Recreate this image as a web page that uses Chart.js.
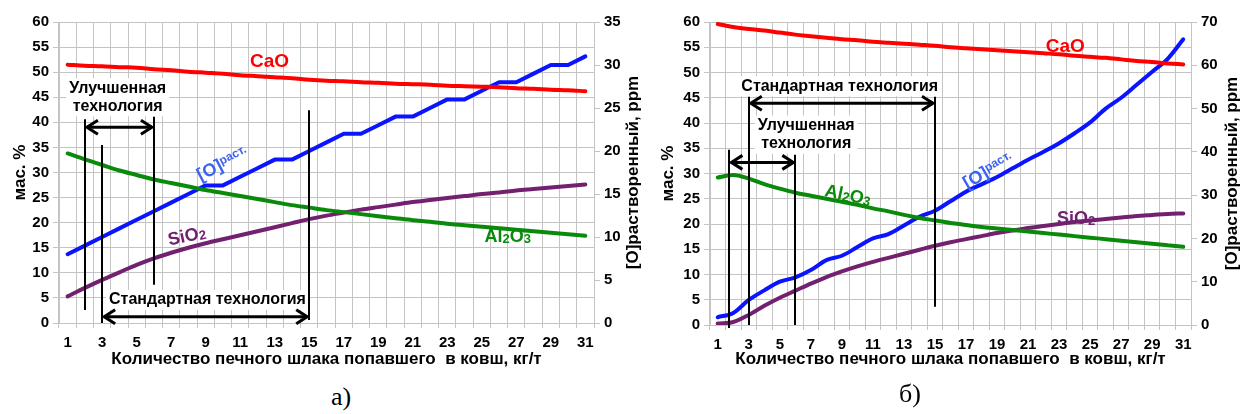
<!DOCTYPE html>
<html>
<head>
<meta charset="utf-8">
<script src="https://cdn.jsdelivr.net/npm/chart.js@4.4.1/dist/chart.umd.min.js"></script>
<style>
  html, body { margin: 0; padding: 0; background: #fff; width: 1240px; height: 414px; overflow: hidden; }
  .panel { position: absolute; top: 0; }
  .cap { position: absolute; font-family: "Liberation Serif", "DejaVu Serif", serif; font-size: 26px; color: #000;
         transform: translate(-50%, -50%); line-height: 1; }
</style>
</head>
<body>
<div class="panel" style="left:0;"><canvas id="chartA" width="650" height="380"></canvas></div>
<div class="panel" style="left:650px;"><canvas id="chartB" width="590" height="380"></canvas></div>
<div class="cap" style="left:341px;top:397px;">а)</div>
<div class="cap" style="left:910px;top:394px;">б)</div>

<script>
// Amount of furnace slag carried into the ladle, kg/t
const slagAmount = ['1','2','3','4','5','6','7','8','9','10','11','12','13','14','15','16',
                    '17','18','19','20','21','22','23','24','25','26','27','28','29','30','31'];

// Panel а) — slag composition, wt. %
const caoA   = [51.5, 51.3, 51.2, 51.0, 50.9, 50.6, 50.4, 50.1, 49.9, 49.7, 49.4, 49.2, 49.0, 48.8, 48.5, 48.3,
                48.2, 48.0, 47.9, 47.7, 47.6, 47.5, 47.3, 47.2, 47.1, 47.0, 46.8, 46.7, 46.5, 46.4, 46.2];
const al2o3A = [33.8, 32.6, 31.5, 30.4, 29.5, 28.6, 27.9, 27.2, 26.5, 25.9, 25.3, 24.7, 24.1, 23.5, 23.0, 22.5,
                22.1, 21.7, 21.3, 20.9, 20.5, 20.2, 19.8, 19.5, 19.2, 18.9, 18.6, 18.3, 18.0, 17.7, 17.4];
const sio2A  = [5.3, 7.0, 8.6, 10.1, 11.6, 12.9, 14.0, 15.0, 15.9, 16.7, 17.5, 18.3, 19.1, 19.9, 20.7, 21.4,
                22.0, 22.6, 23.1, 23.6, 24.1, 24.5, 24.9, 25.3, 25.7, 26.0, 26.4, 26.7, 27.0, 27.3, 27.6];
// Panel а) — dissolved oxygen, ppm
const oxygenA = [8, 9, 10, 11, 12, 13, 14, 15, 16, 16, 17, 18, 19, 19, 20, 21,
                 22, 22, 23, 24, 24, 25, 26, 26, 27, 28, 28, 29, 30, 30, 31];

// Panel б) — slag composition, wt. %
const caoB   = [59.6, 59.0, 58.6, 58.3, 57.9, 57.5, 57.2, 56.9, 56.6, 56.4, 56.1, 55.9, 55.7, 55.5, 55.3, 55.0,
                54.8, 54.6, 54.4, 54.2, 54.0, 53.8, 53.6, 53.3, 53.1, 52.9, 52.6, 52.3, 52.1, 51.8, 51.6];
const al2o3B = [29.2, 29.7, 29.0, 27.9, 27.0, 26.2, 25.6, 25.0, 24.4, 23.8, 23.1, 22.5, 21.8, 21.2, 20.7, 20.2,
                19.8, 19.4, 19.1, 18.8, 18.5, 18.2, 17.9, 17.6, 17.3, 17.0, 16.7, 16.4, 16.1, 15.8, 15.5];
const sio2B  = [0.3, 0.6, 2.0, 3.8, 5.4, 6.8, 8.2, 9.5, 10.6, 11.6, 12.5, 13.3, 14.1, 14.9, 15.7, 16.4,
                17.0, 17.6, 18.2, 18.7, 19.2, 19.6, 20.0, 20.4, 20.7, 21.0, 21.3, 21.6, 21.8, 22.0, 22.1];
// Panel б) — dissolved oxygen, ppm
const oxygenB = [1.8, 2.8, 5.8, 8.0, 10.0, 11.0, 12.7, 15.0, 16.0, 18.0, 20.0, 21.0, 23.0, 25.0, 26.4, 28.6,
                 30.8, 32.5, 34.2, 36.2, 38.2, 40.0, 42.0, 44.3, 46.8, 50.0, 52.5, 55.5, 58.5, 61.5, 66.0];

// Axis ranges
const pctMax = 60, pctStep = 5;
const oxygenMaxA = 35, oxygenStepA = 5;
const oxygenMaxB = 70, oxygenStepB = 10;

const xTitle = 'Количество печного шлака попавшего  в ковш, кг/т';
const pctTitle = 'мас. %';
const oxygenTitle = '[O]растворенный, ppm';

const RED = '#ff0000', GREEN = '#0a8a0a', PURPLE = '#72206f', BLUE = '#0a14ff', LABEL_BLUE = '#3a63f0';
const GRID = '#c4c4c4';
const FONT = '"Liberation Sans", Arial, sans-serif';

// Technology ranges, series captions (category positions and values in axis units)
const notesA = {
  markers: [ { c: 2, from: 2.6, to: 40.6 }, { c: 3, from: 0, to: 35.5 },
             { c: 6, from: 7.6, to: 41.1 }, { c: 15, from: 0.6, to: 42.4 } ],
  arrows:  [ { from: 2, to: 6, v: 39.0 }, { from: 3, to: 15, v: 1.25 } ],
  texts:   [ { lines: ['Улучшенная', 'технология'], c: 3.9, v: 45.0 },
             { lines: ['Стандартная технология'], c: 9.1, v: 4.6 } ],
  labels:  [
    { runs: [{ t: 'CaO', s: 19 }], c: 12.7, v: 52.4, a: 0, color: RED },
    { runs: [{ t: '[O]', s: 18 }, { t: 'раст.', s: 12, dy: -5 }], c: 9.95, v: 31.9, a: -27, color: LABEL_BLUE },
    { runs: [{ t: 'SiO', s: 18 }, { t: '2', s: 13, dy: 1 }], c: 7.9, v: 17.5, a: -12, color: PURPLE },
    { runs: [{ t: 'Al', s: 18 }, { t: '2', s: 13, dy: 1 }, { t: 'O', s: 18 }, { t: '3', s: 13, dy: 1 }],
      c: 26.5, v: 17.5, a: 0, color: GREEN }
  ]
};
const notesB = {
  markers: [ { c: 1.75, from: -0.6, to: 34.7 }, { c: 3, from: 0, to: 45.2 },
             { c: 6, from: 0, to: 33.7 }, { c: 15, from: 3.6, to: 45.2 } ],
  arrows:  [ { from: 3, to: 15, v: 43.9 }, { from: 1.75, to: 6, v: 32.2 } ],
  texts:   [ { lines: ['Стандартная технология'], c: 8.86, v: 47.3 },
             { lines: ['Улучшенная', 'технология'], c: 6.7, v: 37.7 } ],
  labels:  [
    { runs: [{ t: 'CaO', s: 19 }], c: 23.4, v: 55.4, a: 0, color: RED },
    { runs: [{ t: '[O]', s: 18 }, { t: 'раст.', s: 12, dy: -5 }], c: 18.4, v: 30.7, a: -30, color: LABEL_BLUE },
    { runs: [{ t: 'SiO', s: 18 }, { t: '2', s: 13, dy: 1 }], c: 24.1, v: 21.2, a: 0, color: PURPLE },
    { runs: [{ t: 'Al', s: 18 }, { t: '2', s: 13, dy: 1 }, { t: 'O', s: 18 }, { t: '3', s: 13, dy: 1 }],
      c: 9.4, v: 25.9, a: 12, color: GREEN }
  ]
};

function drawRuns(ctx, runs, cx, cy, angle, color) {
  ctx.save();
  ctx.translate(cx, cy);
  ctx.rotate(angle * Math.PI / 180);
  ctx.fillStyle = color;
  ctx.textBaseline = 'alphabetic';
  ctx.textAlign = 'left';
  let w = 0;
  runs.forEach(r => { ctx.font = 'bold ' + r.s + 'px ' + FONT; r.w = ctx.measureText(r.t).width; w += r.w; });
  let x = -w / 2;
  const base = runs[0].s * 0.36;
  runs.forEach(r => { ctx.font = 'bold ' + r.s + 'px ' + FONT; ctx.fillText(r.t, x, base + (r.dy || 0)); x += r.w; });
  ctx.restore();
}

function arrowHead(ctx, x, y, dir) {
  ctx.beginPath();
  ctx.moveTo(x - dir * 11, y - 7);
  ctx.lineTo(x, y);
  ctx.lineTo(x - dir * 11, y + 7);
  ctx.stroke();
}

const notesPlugin = {
  id: 'notes',
  beforeDatasetsDraw(chart, args, opts) {
    const { ctx, scales: { x, y } } = chart;
    const n = opts.notes;
    ctx.save();
    ctx.font = 'bold 16px ' + FONT;
    ctx.textAlign = 'center';
    ctx.textBaseline = 'middle';
    n.texts.forEach(t => {
      const cx = x.getPixelForValue(t.c - 1), cy = y.getPixelForValue(t.v);
      const lh = 18;
      const w = Math.max(...t.lines.map(l => ctx.measureText(l).width)) + 6;
      const h = lh * t.lines.length + 2;
      ctx.fillStyle = '#fff';
      ctx.fillRect(cx - w / 2, cy - h / 2, w, h);
      ctx.fillStyle = '#000';
      t.lines.forEach((l, i) => ctx.fillText(l, cx, cy - (t.lines.length - 1) * lh / 2 + i * lh));
    });
    ctx.restore();
  },
  afterDatasetsDraw(chart, args, opts) {
    const { ctx, scales: { x, y } } = chart;
    const n = opts.notes;
    ctx.save();
    ctx.strokeStyle = '#000';
    ctx.lineCap = 'butt';
    ctx.lineWidth = 2;
    n.markers.forEach(m => {
      const px = Math.round(x.getPixelForValue(m.c - 1));
      ctx.beginPath();
      ctx.moveTo(px, y.getPixelForValue(m.from));
      ctx.lineTo(px, y.getPixelForValue(m.to));
      ctx.stroke();
    });
    ctx.lineWidth = 3;
    ctx.lineJoin = 'miter';
    n.arrows.forEach(a => {
      const x1 = x.getPixelForValue(a.from - 1) + 2, x2 = x.getPixelForValue(a.to - 1) - 2;
      const py = y.getPixelForValue(a.v);
      ctx.beginPath();
      ctx.moveTo(x1, py); ctx.lineTo(x2, py);
      ctx.stroke();
      arrowHead(ctx, x1, py, -1);
      arrowHead(ctx, x2, py, 1);
    });
    ctx.restore();
    n.labels.forEach(l => drawRuns(ctx, l.runs, x.getPixelForValue(l.c - 1), y.getPixelForValue(l.v), l.a, l.color));
    // right-hand axis title, reading bottom to top
    ctx.save();
    ctx.translate(chart.chartArea.right + opts.titleOffset, (chart.chartArea.top + chart.chartArea.bottom) / 2);
    ctx.rotate(-Math.PI / 2);
    ctx.font = 'bold 17px ' + FONT;
    ctx.fillStyle = '#000';
    ctx.textAlign = 'center';
    ctx.textBaseline = 'middle';
    ctx.fillText(oxygenTitle, 0, 0);
    ctx.restore();
  }
};

function buildChart(id, d) {
  const tickFont = { family: FONT, size: 15, weight: 'bold' };
  const titleFont = { family: FONT, size: 17, weight: 'bold' };
  const series = (data, color, axis, smooth) => ({
    data, borderColor: color, backgroundColor: color, yAxisID: axis, borderWidth: 4,
    pointRadius: 0, fill: false, borderCapStyle: 'round', borderJoinStyle: 'round',
    tension: smooth ? 0.4 : 0, cubicInterpolationMode: smooth ? 'monotone' : 'default'
  });
  return new Chart(document.getElementById(id), {
    type: 'line',
    data: {
      labels: slagAmount,
      datasets: [
        series(d.cao, RED, 'y', true),
        series(d.al2o3, GREEN, 'y', true),
        series(d.sio2, PURPLE, 'y', true),
        series(d.oxygen, BLUE, 'y2', d.oxygenSmooth)
      ]
    },
    options: {
      responsive: false,
      animation: false,
      events: [],
      layout: { padding: { top: 22, left: 0, right: 0, bottom: 0 } },
      plugins: {
        legend: { display: false },
        tooltip: { enabled: false },
        notes: { notes: d.notes, titleOffset: d.titleOffset }
      },
      scales: {
        x: {
          type: 'category',
          offset: true,
          grid: { offset: true, color: GRID, lineWidth: 1, tickLength: 5, drawTicks: true },
          border: { color: GRID },
          ticks: {
            autoSkip: false, maxRotation: 0, minRotation: 0, padding: 6, color: '#000', font: tickFont,
            callback: function (value, index) { return index % 2 === 0 ? this.getLabelForValue(value) : ''; }
          },
          title: { display: true, text: xTitle, color: '#000', font: titleFont, padding: { top: 0, bottom: 10 } },
          afterFit: s => { s.height = d.xHeight; }
        },
        y: {
          position: 'left',
          min: 0, max: pctMax,
          grid: { color: GRID, tickLength: 6 },
          border: { color: GRID },
          ticks: { stepSize: pctStep, padding: 4, color: '#000', font: tickFont },
          title: { display: true, text: pctTitle, color: '#000', font: titleFont, padding: { top: d.pctTitlePad, bottom: 0 } },
          afterFit: s => { s.width = d.leftW; }
        },
        y2: {
          position: 'right',
          min: 0, max: d.oxygenMax,
          grid: { drawOnChartArea: false, color: GRID, tickLength: 6 },
          border: { color: GRID },
          ticks: { stepSize: d.oxygenStep, padding: 4, color: '#000', font: tickFont },
          afterFit: s => { s.width = d.rightW; }
        }
      }
    },
    plugins: [notesPlugin]
  });
}

buildChart('chartA', {
  cao: caoA, al2o3: al2o3A, sio2: sio2A, oxygen: oxygenA, oxygenSmooth: false,
  oxygenMax: oxygenMaxA, oxygenStep: oxygenStepA, notes: notesA,
  leftW: 59, rightW: 56, xHeight: 57, pctTitlePad: 10, titleOffset: 39
});
buildChart('chartB', {
  cao: caoB, al2o3: al2o3B, sio2: sio2B, oxygen: oxygenB, oxygenSmooth: true,
  oxygenMax: oxygenMaxB, oxygenStep: oxygenStepB, notes: notesB,
  leftW: 60, rightW: 49, xHeight: 55, pctTitlePad: 8, titleOffset: 41
});
</script>
</body>
</html>
